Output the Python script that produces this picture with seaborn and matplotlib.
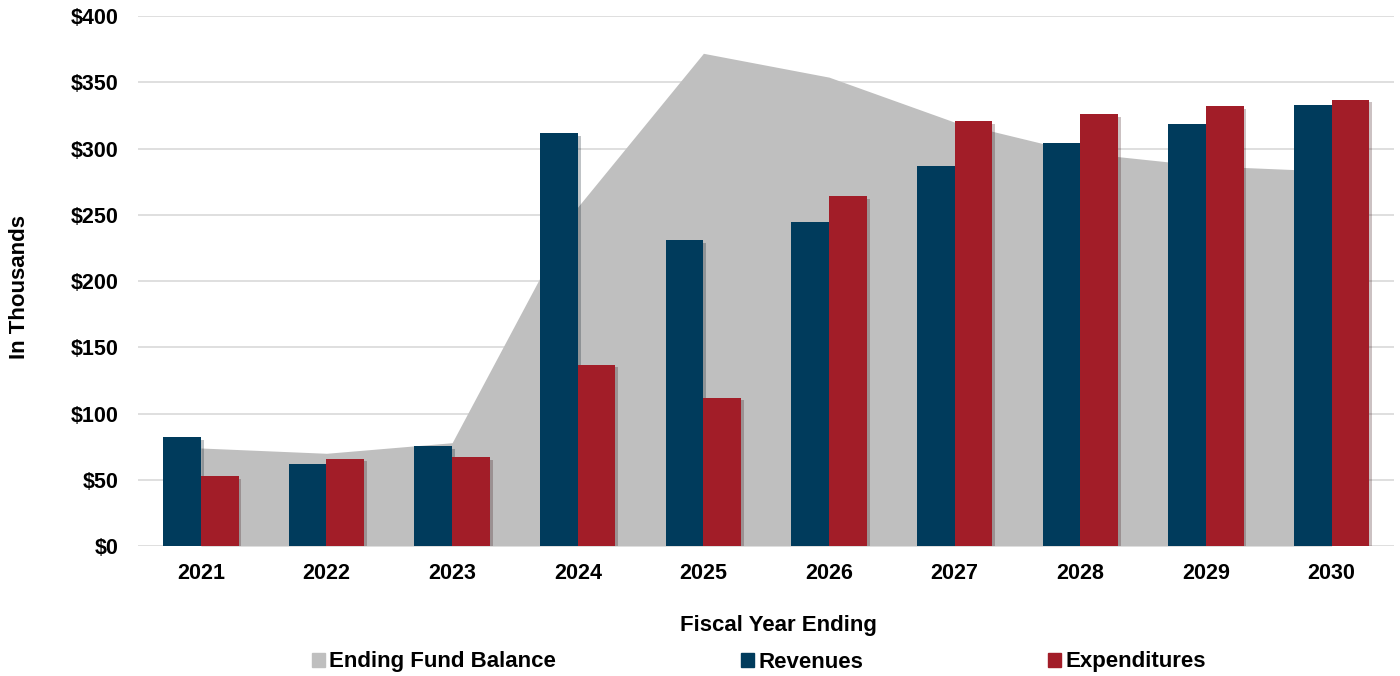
import pandas as pd
import seaborn as sns
import matplotlib.pyplot as plt
import matplotlib.patheffects as pe
from matplotlib.patches import Patch
from matplotlib.ticker import FuncFormatter, MultipleLocator

years = ['2021', '2022', '2023', '2024', '2025', '2026', '2027', '2028', '2029', '2030']
revenues = [82, 62, 75.5, 312, 231, 245, 287, 304, 319, 333]
expenditures = [53, 66, 67, 137, 112, 264, 321, 326, 332, 337]
fund_balance = [74, 70, 78, 256, 372, 354, 320, 297, 287, 283]

blue = '#003B5C'
red = '#A21D28'
gray = '#BFBFBF'

sns.set_style('white')
plt.rcParams['font.family'] = ['Liberation Sans', 'DejaVu Sans']
plt.rcParams['font.weight'] = 'bold'
plt.rcParams['text.color'] = 'black'
plt.rcParams['xtick.color'] = 'black'
plt.rcParams['ytick.color'] = 'black'
plt.rcParams['axes.labelcolor'] = 'black'

df = pd.DataFrame({
    'Year': years * 2,
    'Amount': revenues + expenditures,
    'Series': ['Revenues'] * len(years) + ['Expenditures'] * len(years),
})

fig, ax = plt.subplots(figsize=(14, 6.76), dpi=100)
fig.subplots_adjust(left=0.0986, right=0.996, top=0.976, bottom=0.1923)

sns.barplot(data=df, x='Year', y='Amount', hue='Series',
            hue_order=['Revenues', 'Expenditures'], palette=[blue, red],
            width=0.6, saturation=1, ax=ax, zorder=3, edgecolor='none', linewidth=0)
for bar in ax.patches:
    bar.set_path_effects([pe.SimplePatchShadow(offset=(2, -2), alpha=0.25), pe.Normal()])

# fund balance area behind the bars
ax.fill_between(range(len(years)), fund_balance, color=gray, lw=0, zorder=1)

ax.set_xlim(-0.5, len(years) - 0.5)
ax.set_ylim(0, 400)
ax.yaxis.set_major_locator(MultipleLocator(50))
ax.yaxis.set_major_formatter(FuncFormatter(lambda v, p: f'${v:.0f}'))
ax.grid(axis='y', color='#D9D9D9', lw=1.2)
ax.set_axisbelow(True)
sns.despine(ax=ax, left=True, right=True, top=True, bottom=True)
ax.tick_params(axis='y', length=0, pad=14, labelsize=15.5)
ax.tick_params(axis='x', length=0, pad=12, labelsize=15.5)

ax.set_xlabel('Fiscal Year Ending', fontsize=16, fontweight='bold')
ax.xaxis.set_label_coords(0.51, -0.13)
ax.set_ylabel('')
fig.text(20 / 1400, 1 - 287 / 676, 'In Thousands', rotation=90, ha='center', va='center',
         fontsize=16, fontweight='bold')

ax.get_legend().remove()
handles = [Patch(color=gray), Patch(color=blue), Patch(color=red)]
labels = ['Ending Fund Balance', 'Revenues', 'Expenditures']
fig.legend(handles, labels, loc='center', bbox_to_anchor=(0.542, 1 - 662 / 676), ncol=3,
           frameon=False, handlelength=0.6, handleheight=0.6, handletextpad=0.2,
           columnspacing=8.3, prop={'size': 16, 'weight': 'bold'})

fig.savefig('out.png', dpi=100)
